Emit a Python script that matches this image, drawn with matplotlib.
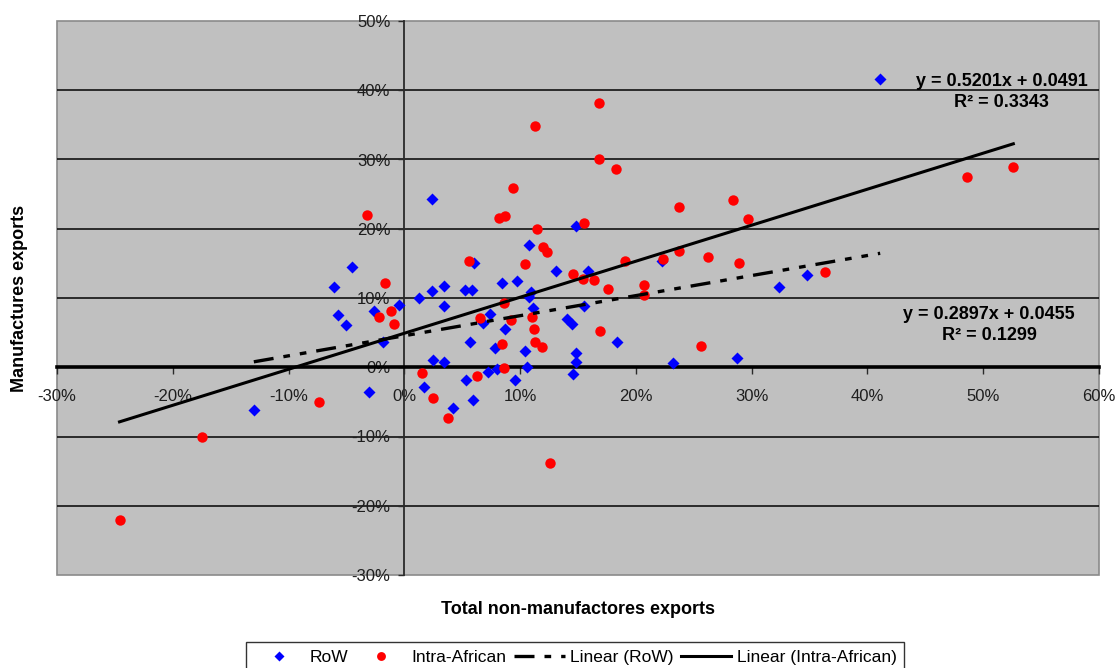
import matplotlib
matplotlib.use("Agg")
import matplotlib.pyplot as plt
from matplotlib.patches import Rectangle
from matplotlib.ticker import FuncFormatter

# growth rates in percent
row_x = [-13.0, -6.1, -5.7, -5.0, -4.5, -3.05, -2.65, -1.8, -0.45, 1.25,
         1.7, 2.4, 2.4, 2.5, 3.4, 3.4, 3.45, 4.2, 5.2, 5.3,
         5.7, 5.85, 5.9, 6.0, 6.8, 7.2, 7.4, 7.8, 8.0, 8.4,
         8.7, 9.6, 9.7, 10.4, 10.6, 10.8, 10.9, 10.8, 11.1, 13.1,
         14.05, 14.5, 14.6, 14.85, 14.85, 14.85, 15.5, 15.9, 18.4, 22.25,
         23.2, 28.7, 32.4, 34.8, 41.1]
row_y = [-6.2, 11.6, 7.6, 6.1, 14.5, -3.6, 8.1, 3.6, 9.05, 10.0,
         -2.9, 11.0, 24.3, 1.1, 11.7, 8.85, 0.8, -5.9, 11.2, -1.9,
         3.6, 11.2, -4.7, 15.1, 6.45, -0.7, 7.7, 2.8, -0.2, 12.2,
         5.5, -1.9, 12.4, 2.3, 0.05, 10.1, 10.8, 17.7, 8.5, 13.9,
         7.0, 6.3, -1.0, 2.1, 0.8, 20.4, 8.85, 13.9, 3.6, 15.35,
         0.6, 1.3, 11.6, 13.3, 41.6]

afr_x = [-24.6, -17.5, -7.35, -3.2, -2.2, -1.7, -1.15, -0.85, 1.5, 2.5,
         3.8, 5.6, 6.3, 6.5, 8.2, 8.4, 8.6, 8.6, 8.7, 9.2,
         9.4, 10.4, 11.0, 11.2, 11.25, 11.3, 11.5, 11.9, 12.0, 12.3,
         12.6, 14.6, 15.4, 15.5, 16.4, 16.8, 16.8, 16.9, 17.6, 18.3,
         19.1, 20.7, 20.7, 22.3, 23.7, 23.7, 25.6, 26.25, 28.4, 28.9,
         29.7, 36.3, 48.6, 52.6]
afr_y = [-22.0, -10.1, -4.95, 22.0, 7.3, 12.1, 8.1, 6.2, -0.9, -4.5,
         -7.3, 15.3, -1.3, 7.1, 21.6, 3.3, -0.1, 9.3, 21.8, 6.8,
         25.9, 14.9, 7.2, 5.5, 3.65, 34.9, 19.9, 2.9, 17.3, 16.6,
         -13.8, 13.4, 12.8, 20.8, 12.6, 38.2, 30.0, 5.2, 11.3, 28.7,
         15.35, 11.9, 10.5, 15.7, 23.1, 16.8, 3.1, 15.9, 24.2, 15.1,
         21.4, 13.8, 27.5, 28.9]

# trendlines as printed on the chart: slope, intercept, R2
row_fit = (0.2897, 0.0455, 0.1299)
afr_fit = (0.5201, 0.0491, 0.3343)

x_ticks = [-30, -20, -10, 0, 10, 20, 30, 40, 50, 60]
y_ticks = [-30, -20, -10, 0, 10, 20, 30, 40, 50]


def trend(xs, fit):
    """Line end points of a fitted trend in percent units."""
    x0, x1 = min(xs), max(xs)
    return [x0, x1], [fit[0] * x0 + 100 * fit[1], fit[0] * x1 + 100 * fit[1]]


def main():
    plt.rcParams['font.family'] = ['Liberation Sans', 'DejaVu Sans']
    W, H = 1120, 668
    fig = plt.figure(figsize=(W / 100, H / 100), dpi=100)
    ax = fig.add_axes([57 / W, 93 / H, 1042 / W, 554 / H])
    ax.set_facecolor('#c0c0c0')
    ax.set_xlim(x_ticks[0], x_ticks[-1])
    ax.set_ylim(y_ticks[0], y_ticks[-1])

    # axes cross at zero, frame drawn separately
    ax.spines['left'].set_position(('data', 0))
    ax.spines['bottom'].set_position(('data', 0))
    ax.spines['left'].set_color('#2a2a2a')
    ax.spines['left'].set_linewidth(1.3)
    ax.spines['bottom'].set_color('black')
    ax.spines['bottom'].set_linewidth(2.6)
    ax.spines['top'].set_visible(False)
    ax.spines['right'].set_visible(False)
    ax.add_patch(Rectangle((0, 0), 1, 1, transform=ax.transAxes, fill=False,
                           edgecolor='#8a8a8a', lw=1.2, clip_on=False, zorder=1))

    for yv in y_ticks[1:-1]:
        if yv != 0:
            ax.axhline(yv, color='#111111', lw=1.2, zorder=1)

    ax.set_xticks(x_ticks)
    ax.set_yticks(y_ticks)
    pct = FuncFormatter(lambda v, p: f"{v:.0f}%")
    ax.xaxis.set_major_formatter(pct)
    ax.yaxis.set_major_formatter(pct)
    ax.tick_params(axis='y', direction='out', length=4, width=1, pad=6,
                   labelsize=12, labelcolor='#1e1e1e', color='#2a2a2a')
    ax.tick_params(axis='x', direction='out', length=5, width=1, pad=11,
                   labelsize=12, labelcolor='#1e1e1e', color='#2a2a2a')

    ax.plot(row_x, row_y, linestyle='none', marker='D', ms=6.5, color='#0000ff',
            mec='none', label='RoW', zorder=3)
    ax.plot(afr_x, afr_y, linestyle='none', marker='o', ms=7.5, color='#ff0000',
            mec='none', label='Intra-African', zorder=3)

    lx, ly = trend(row_x, row_fit)
    ax.plot(lx, ly, color='black', lw=2.4, linestyle=(0, (6, 3, 2, 3, 2, 3)),
            dash_capstyle='butt', label='Linear (RoW)', zorder=4)
    lx, ly = trend(afr_x, afr_fit)
    ax.plot(lx, ly, color='black', lw=2.2, label='Linear (Intra-African)', zorder=4)

    ax.text(51.6, 39.7, f"y = {afr_fit[0]:.4f}x + {afr_fit[1]:.4f}\nR² = {afr_fit[2]:.4f}",
            ha='center', va='center', multialignment='center', fontsize=13,
            fontweight='bold', linespacing=1.3, zorder=5)
    ax.text(50.5, 6.1, f"y = {row_fit[0]:.4f}x + {row_fit[1]:.4f}\nR² = {row_fit[2]:.4f}",
            ha='center', va='center', multialignment='center', fontsize=13,
            fontweight='bold', linespacing=1.3, zorder=5)

    fig.text(578 / W, 1 - 609 / H, "Total non-manufactores exports",
             ha='center', va='center', fontsize=13, fontweight='bold')
    fig.text(20 / W, 1 - 298 / H, "Manufactures exports", rotation=90,
             ha='center', va='center', fontsize=13, fontweight='bold')

    handles, labels = ax.get_legend_handles_labels()
    leg = fig.legend(handles, labels, loc='upper left',
                     bbox_to_anchor=(246 / W, 1 - 642 / H), ncol=4,
                     fontsize=12.5, frameon=True, fancybox=False,
                     edgecolor='black', handlelength=2.9, handletextpad=0.3,
                     columnspacing=0.45, borderpad=0.45, borderaxespad=0,
                     markerscale=0.85)
    leg.get_frame().set_linewidth(1.0)

    fig.savefig("out.png", dpi=100, facecolor='white')


if __name__ == "__main__":
    main()
